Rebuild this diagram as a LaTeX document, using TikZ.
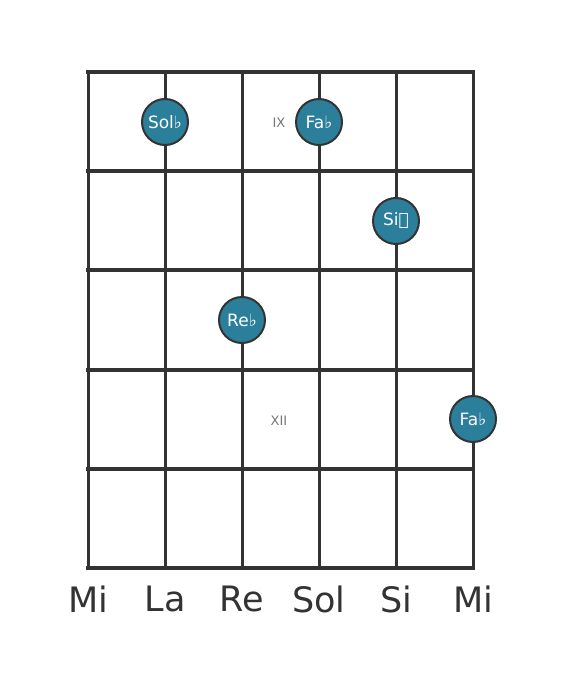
\documentclass[tikz,border=0pt]{standalone}
\usepackage{fontspec}
\setmainfont{DejaVu Sans}
\definecolor{gridc}{HTML}{333333}
\definecolor{dotc}{HTML}{2B7F9A}
\definecolor{labc}{HTML}{777777}
\begin{document}
\begin{tikzpicture}[x=1pt,y=-1pt,
  fret/.style={draw=gridc,line width=4pt},
  stringln/.style={draw=gridc,line width=3pt},
  dot/.style={circle,fill=dotc,draw=gridc,line width=2pt,minimum size=46pt,inner sep=0pt,text=white,font=\fontsize{17}{19}\selectfont},
  fretlab/.style={text=labc,font=\fontsize{13}{15}\selectfont},
  strname/.style={text=gridc,font=\fontsize{35}{40}\selectfont}]
\useasboundingbox (0,0) rectangle (568,682);
\foreach \i/\x in {0/88,1/165,2/242,3/319,4/396,5/473}{
  \draw[stringln] (\x,72) -- (\x,568);
}
\foreach \y in {72,171,270,370,469,568}{
  \draw[fret] (86,\y) -- (475,\y);
}
\node[fretlab] (l9) at (279,123) {IX};
\node[fretlab] (l12) at (279,421) {XII};
\node[dot] (d1) at (165,122) {Sol♭};
\node[dot] (d2) at (319,122) {Fa♭};
\node[dot] (d3) at (396,221) {Si𝄫};
\node[dot] (d4) at (242,320) {Re♭};
\node[dot] (d5) at (473,419) {Fa♭};
\node[strname] (s1) at (88,599) {Mi};
\node[strname] (s2) at (165,599) {La};
\node[strname] (s3) at (242,599) {Re};
\node[strname] (s4) at (319,599) {Sol};
\node[strname] (s5) at (396,599) {Si};
\node[strname] (s6) at (473,599) {Mi};
\end{tikzpicture}
\end{document}
